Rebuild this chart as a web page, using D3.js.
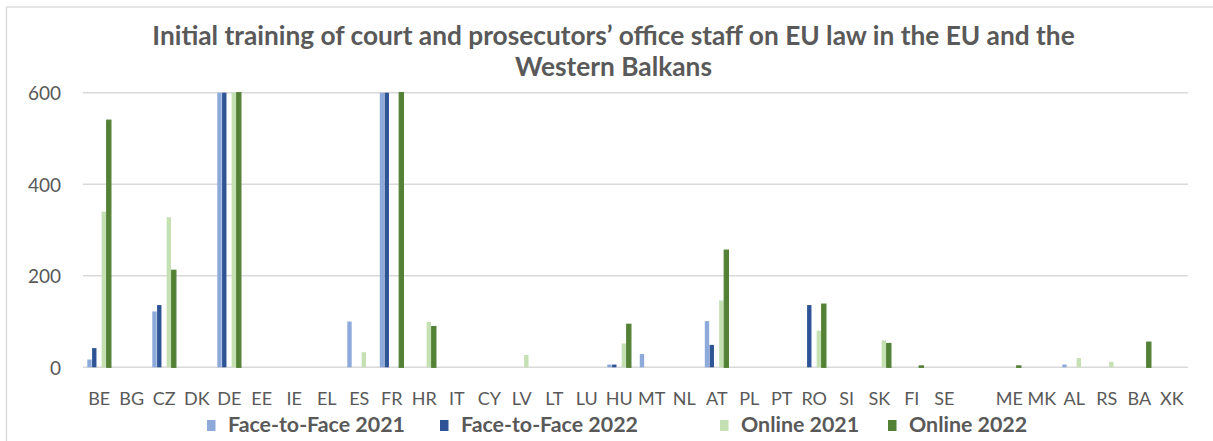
<!DOCTYPE html>
<html>
<head>
<meta charset="utf-8">
<script src="https://cdn.jsdelivr.net/npm/d3@7"></script>
<style>
  html, body { margin: 0; padding: 0; background: #ffffff; }
  svg { display: block; }
</style>
</head>
<body>
<svg id="chart" width="1213" height="441"></svg>
<script>
// ---------------- data ----------------
const categories = ["BE","BG","CZ","DK","DE","EE","IE","EL","ES","FR","HR","IT","CY","LV","LT","LU","HU","MT","NL","AT","PL","PT","RO","SI","SK","FI","SE","","ME","MK","AL","RS","BA","XK"];
// DE and FR values exceed the 600 axis maximum and are cut off in the original; estimated
const faceToFace2021 = [17,0,122,0,800,0,0,0,100,800,0,0,0,0,0,0,6,29,0,101,0,0,0,0,0,0,0,0,0,0,6,0,0,0];
const faceToFace2022 = [42,0,136,0,800,0,0,0,0,800,0,0,0,0,0,0,6,0,0,49,0,0,136,0,0,0,0,0,0,0,0,0,0,0];
const online2021     = [340,0,328,0,800,0,0,0,33,0,99,0,0,27,0,0,52,0,0,146,0,0,80,0,59,0,0,0,0,0,20,12,0,0];
const online2022     = [540,0,212,0,800,0,0,0,0,800,89,0,0,0,0,0,94,0,0,256,0,0,138,0,52,3,0,0,3,0,0,0,55,0];
const seriesNames = ["Face-to-Face 2021","Face-to-Face 2022","Online 2021","Online 2022"];
const yTicks = [0, 200, 400, 600];
const titleLines = ["Initial training of court and prosecutors\u2019 office staff on EU law in the EU and the", "Western Balkans"];

// ---------------- style / layout ----------------
const colors = ["#8eaadb", "#2f5496", "#c5e0b3", "#538135"];
const textColor = "#595959";
const gridColor = "#d9d9d9";
const plot = { left: 83, right: 1188, top: 92.7, bottom: 367.3 };
const legendX = [207, 440, 720, 888];

const svg = d3.select("#chart");

// outer chart border
svg.append("rect")
  .attr("x", 6.5).attr("y", 7)
  .attr("width", 1230).attr("height", 460)
  .attr("fill", "#fff").attr("stroke", gridColor).attr("stroke-width", 1.3);

const x = d3.scaleBand().domain(d3.range(categories.length)).range([plot.left, plot.right]).padding(0);
const slotKeys = ["s0","s1","gap","s2","s3"];
const xi = d3.scaleBand().domain(slotKeys).range([0, x.bandwidth()]).paddingInner(0).paddingOuter(0.9);
const y = d3.scaleLinear().domain([0, 600]).range([plot.bottom, plot.top]).clamp(true);

// gridlines
svg.append("g").selectAll("line").data(yTicks).join("line")
  .attr("x1", plot.left).attr("x2", plot.right)
  .attr("y1", d => y(d)).attr("y2", d => y(d))
  .attr("stroke", gridColor).attr("stroke-width", 1.4);

// y axis labels
const yAxis = d3.axisLeft(y).tickValues(yTicks).tickSize(0).tickPadding(0).tickFormat(d3.format("d"));
const gy = svg.append("g").attr("transform", `translate(61,0)`).call(yAxis);
gy.select(".domain").remove();
gy.selectAll("text").attr("font-family", "Lato, 'Open Sans', sans-serif").attr("font-size", 19)
  .attr("fill", textColor).attr("dy", "0.36em");

// bars
const seriesData = [faceToFace2021, faceToFace2022, online2021, online2022];
const slotOf = ["s0","s1","s2","s3"];
seriesData.forEach((vals, si) => {
  svg.append("g").selectAll("rect")
    .data(vals.map((v, i) => ({ v, i })).filter(d => d.v > 0))
    .join("rect")
    .attr("x", d => x(d.i) + xi(slotOf[si]) + (si === 3 ? 0.3 : 0))
    .attr("width", si === 3 ? xi.bandwidth() - 0.6 : xi.bandwidth() - 0.4)
    .attr("y", d => y(d.v))
    .attr("height", d => y(0) - y(d.v))
    .attr("fill", colors[si])
    .attr("stroke", si === 3 ? colors[si] : "none")
    .attr("stroke-width", si === 3 ? 1.2 : 0);
});

// x axis labels
const xAxis = d3.axisBottom(x).tickSize(0).tickPadding(0).tickFormat(i => categories[i]);
const gx = svg.append("g").attr("transform", `translate(0,${plot.bottom})`).call(xAxis);
gx.select(".domain").remove();
gx.selectAll("text").attr("font-family", "Lato, 'Open Sans', sans-serif").attr("font-size", 18)
  .attr("fill", textColor).attr("dy", 0).attr("y", 38);

// title
const title = svg.append("g");
const tl = title.selectAll("text").data(titleLines).join("text")
  .attr("x", 613.5).attr("y", (d, i) => 45 + i * 31)
  .attr("text-anchor", "middle")
  .attr("font-family", "Lato, 'Open Sans', sans-serif").attr("font-weight", 700)
  .attr("font-size", 20).attr("fill", textColor)
  .text(d => d);
const w0 = tl.nodes()[0].getComputedTextLength();
const titleSize = 20 * 923 / w0;
tl.attr("font-size", titleSize);

// legend
const lg = svg.append("g");
const items = lg.selectAll("g").data(seriesNames).join("g")
  .attr("transform", (d, i) => `translate(${legendX[i]},0)`);
items.append("rect").attr("x", 0).attr("y", 420).attr("width", 8.5).attr("height", 11)
  .attr("fill", (d, i) => colors[i]);
const lt = items.append("text").attr("x", 21).attr("y", 431.5)
  .attr("font-family", "Lato, 'Open Sans', sans-serif").attr("font-weight", 700)
  .attr("font-size", 19).attr("fill", textColor).text(d => d);
const lw = lt.nodes()[0].getComputedTextLength();
lt.attr("font-size", 19 * 177 / lw);
</script>
</body>
</html>
